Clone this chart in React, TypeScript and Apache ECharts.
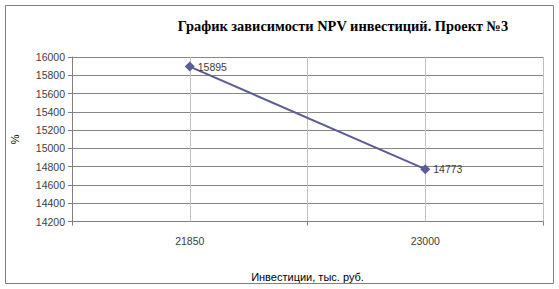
import React, { useEffect, useRef } from "react";
import * as echarts from "echarts";

const categories = ["21850", "23000"];
const npvValues = [15895, 14773];
const yMin = 14200;
const yMax = 16000;
const yStep = 200;
const titleText = "График зависимости NPV инвестиций. Проект №3";
const xName = "Инвестиции, тыс. руб.";
const yName = "%";

export default function App() {
  const ref = useRef<HTMLDivElement>(null);
  useEffect(() => {
    if (!ref.current) return;
    const chart = echarts.init(ref.current, null, { renderer: "svg" });
    const labelFont = "'Liberation Sans', Arial, sans-serif";
    chart.setOption({
      animation: false,
      backgroundColor: "#ffffff",
      graphic: [
        {
          type: "rect",
          shape: { x: 5.5, y: 5.5, width: 548, height: 278 },
          style: { fill: "none", stroke: "#808080", lineWidth: 1 },
          silent: true,
        },
        {
          type: "text",
          x: 343,
          y: 26,
          style: {
            text: titleText,
            font: "bold 14.4px 'Liberation Serif', 'Times New Roman', serif",
            fill: "#000000",
            textAlign: "center",
            textVerticalAlign: "middle",
          },
        },
      ],
      grid: { left: 72, right: 16, top: 57, bottom: 67.5, containLabel: false },
      xAxis: {
        type: "category",
        data: categories,
        boundaryGap: true,
        name: xName,
        nameLocation: "middle",
        nameGap: 50,
        nameTextStyle: { fontFamily: labelFont, fontSize: 11, color: "#000000" },
        axisLine: { lineStyle: { color: "#808080", width: 1 } },
        axisTick: { show: true, length: 4, lineStyle: { color: "#808080" } },
        axisLabel: { fontFamily: labelFont, fontSize: 10.5, color: "#404040", margin: 14 },
        splitLine: { show: true, lineStyle: { color: "#c0c0c0", width: 1 } },
      },
      yAxis: {
        type: "value",
        min: yMin,
        max: yMax,
        interval: yStep,
        name: yName,
        nameLocation: "middle",
        nameGap: 52,
        nameTextStyle: { fontFamily: labelFont, fontSize: 11, color: "#000000" },
        axisLine: { show: true, lineStyle: { color: "#808080", width: 1 } },
        axisTick: { show: true, length: 4, lineStyle: { color: "#808080" } },
        axisLabel: {
          fontFamily: labelFont,
          fontSize: 10.5,
          color: "#404040",
          margin: 7,
          formatter: (v: number) => String(v),
        },
        splitLine: { show: true, lineStyle: { color: "#868686", width: 1 } },
      },
      series: [
        {
          type: "line",
          data: npvValues,
          symbol: "diamond",
          symbolSize: 10,
          lineStyle: { color: "#5c5c96", width: 2 },
          itemStyle: { color: "#5c5c96" },
          label: {
            show: true,
            position: "right",
            distance: 3,
            fontFamily: labelFont,
            fontSize: 10.5,
            color: "#404040",
          },
          markLine: {
            silent: true,
            symbol: "none",
            label: { show: false },
            lineStyle: { color: "#c0c0c0", width: 1, type: "solid" },
            data: categories.map((c) => ({ xAxis: c })),
          },
          z: 5,
        },
      ],
    });
    return () => chart.dispose();
  }, []);
  return (
    <div
      ref={ref}
      style={{ position: "absolute", left: 0, top: 0, width: 559, height: 289 }}
    />
  );
}
